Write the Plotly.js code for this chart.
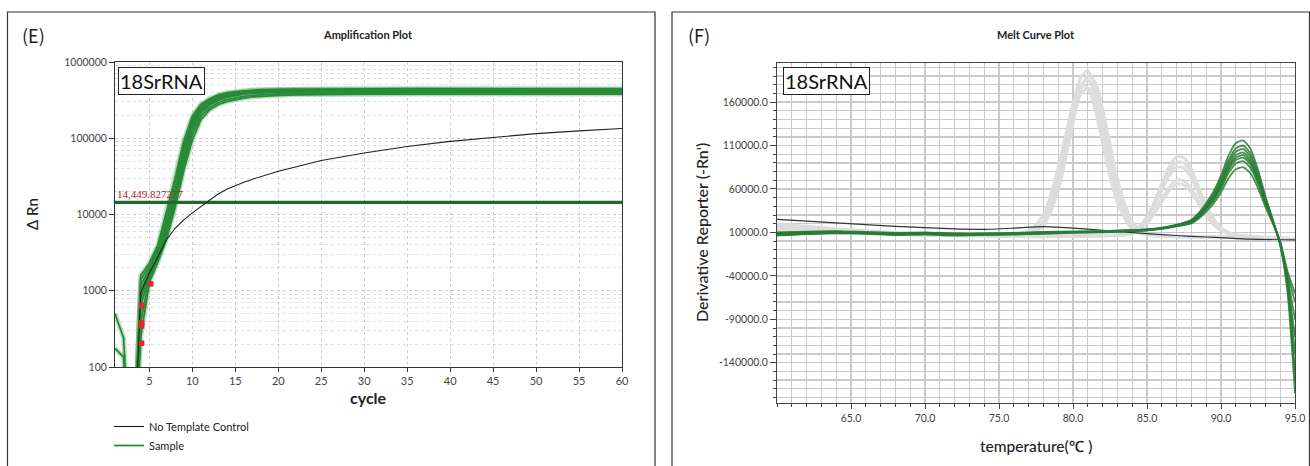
<!DOCTYPE html>
<html><head><meta charset="utf-8">
<script src="https://cdn.plot.ly/plotly-3.0.1.min.js"></script>
<style>html,body{margin:0;padding:0;background:#fff}#chart{width:1310px;height:466px}</style>
</head><body><div id="chart"></div>
<script>
// ---------- Amplification plot data ----------
const CYCLES = [1,2,3,4,5,6,7,8,9,10,11,12,13,14,15,16,17,18,20,22,25,30,35,40,45,50,55,60];
const AMP_S1 = [2,2,2,1600,2300,4000,11000,30000,92000,195000,280000,330000,370000,395000,410000,420000,428000,433000,438000,441000,443000,445000,446000,446000,446000,445000,445000,444000];
const AMP_S2 = [500,240,2,1400,2100,3700,9000,26000,80000,180000,265000,318000,358000,385000,402000,413000,421000,427000,432000,435000,437000,439000,440000,440000,439000,439000,438000,438000];
const AMP_S3 = [2,2,2,1200,1900,3400,8000,22000,70000,165000,250000,305000,345000,374000,393000,405000,413000,419000,425000,428000,430000,432000,433000,433000,432000,432000,431000,431000];
const AMP_S4 = [175,135,2,1000,1800,3200,7200,20000,62000,150000,238000,295000,336000,365000,384000,397000,406000,413000,419000,422000,424000,426000,427000,427000,427000,426000,426000,425000];
const AMP_S5 = [2,2,2,800,1700,3000,6500,17500,55000,140000,228000,285000,326000,356000,376000,390000,400000,407000,414000,417000,419000,421000,422000,422000,422000,421000,421000,420000];
const AMP_S6 = [2,2,2,630,1600,2800,6000,16000,50000,128000,215000,272000,314000,344000,364000,378000,388000,395000,403000,407000,410000,413000,414000,414000,414000,414000,413000,413000];
const AMP_S7 = [2,2,2,400,1450,2600,5300,14000,44000,112000,195000,252000,292000,320000,340000,354000,365000,372000,382000,387000,390000,393000,395000,396000,396000,396000,395000,395000];
const AMP_S8 = [2,2,2,250,1300,2400,4800,12500,38000,95000,175000,235000,275000,302000,322000,337000,348000,356000,366000,371000,375000,378000,380000,381000,381000,381000,380000,380000];
const AMP_NTC = [2,2,2,950,1700,2800,4700,6600,8500,10500,12800,15500,18600,21500,24000,26500,29000,31500,37000,42000,51000,64000,78000,91000,103000,115000,125000,134000];
const THRESHOLD = 14449.827277;
const THRESHOLD_LABEL = "14,449.827277";
const CT_X = [4.1,4.1,4.1,4.1,5.15];
const CT_Y = [640,380,345,205,1230];
const AMP_YTICKS = [100,1000,10000,100000,1000000];
const AMP_YTEXT = ["100","1000","10000","100000","1000000"];
const AMP_XTICKS = [5,10,15,20,25,30,35,40,45,50,55,60];

// ---------- Melt curve data ----------
const T_G = [60,62,64,66,68,70,72,74,76,78,80,82,84,85,86,87,88,88.5,89,89.5,90,90.5,91,91.5,92,92.5,93,93.5,94,94.5,95];
const MELT_G1 = [8000,9500,10500,9500,8000,8500,7500,8000,8500,9500,10500,11000,12500,13500,15500,19000,24700,32600,43800,57400,75400,98000,112600,116000,105900,82200,51700,24700,-4700,-55000,-150000];
const MELT_G2 = [9000,10000,11000,10000,9000,9500,8500,8500,9000,10000,11000,11500,12500,13500,15000,18500,23800,31300,41900,54700,71700,93000,106800,110000,100400,78100,49400,23800,-3800,-48000,-110000];
const MELT_G3 = [7000,8500,9500,9000,7500,8000,7000,7500,8000,9000,10000,10500,12000,13000,15000,18500,23300,30400,40600,52900,69200,89600,102900,106000,96800,75300,47800,23300,-3300,-60000,-175000];
const MELT_G4 = [10000,11000,11500,10500,9500,10000,9000,9000,9500,10500,11000,11500,12500,13500,15000,18000,22700,29600,39400,51100,66800,86400,99100,102000,93200,72700,46200,22700,-2700,-42000,-90000];
const MELT_G5 = [8500,9000,10000,9500,8500,9000,8000,8000,8500,9500,10500,11000,12000,13000,14500,18000,22300,28900,38400,49800,64900,83900,96200,99000,90500,70600,45000,22300,-2300,-45000,-130000];
const MELT_G6 = [6500,8000,9000,8500,7000,7500,6500,7000,7500,8500,9500,10000,11500,12500,14500,17500,21900,28300,37500,48400,63100,81400,93300,96000,87800,68600,43900,21900,-1900,-38000,-70000];
const MELT_G7 = [9500,10500,11000,10000,9000,9500,8500,8500,9000,10000,10500,11000,12000,13000,14500,17500,21300,27400,36200,46600,60600,78000,89400,92000,84100,65800,42300,21300,-1300,-35000,-60000];
const MELT_G8 = [7500,8500,9500,9000,8000,8500,7500,7500,8000,9000,10000,10500,11500,12500,14000,17000,20400,26000,33900,43500,56300,72200,82600,85000,77800,61100,39500,20400,-400,-50000,-160000];

const T_A = [60,65,70,75,77,78,79,79.5,80,80.5,81,81.5,82,82.5,83,84,85,90,95];
const MELT_A1 = [20000,13000,8000,7000,9800,23100,73500,114300,156100,187500,196000,177000,139000,97200,59200,18200,7900,5000,2000];
const MELT_A2 = [17000,12000,7500,6900,9600,22200,69900,108600,148200,177900,186000,168000,132000,92400,56400,17500,7800,5000,2000];
const MELT_A3 = [15000,11000,7000,6800,9400,21300,66400,102900,140300,168400,176000,159000,125000,87600,53600,16900,7700,4500,1500];
const MELT_A4 = [18000,12500,8000,6600,7500,17700,57800,94800,135500,172500,190400,182700,152200,111500,71700,22700,8400,5000,2000];
const MELT_A5 = [16000,11500,7500,7800,12100,30500,84800,121500,158300,179300,176600,151300,112800,74300,44500,13900,6900,4500,1500];

const T_B = [60,70,80,84,85,85.5,86,86.5,87,87.5,88,88.5,89,90,91,95];
const MELT_B1 = [14000,8000,6000,10400,28100,45600,65800,85600,96900,95600,82400,62100,41000,15000,7300,3000];
const MELT_B2 = [12000,7500,6000,10100,26600,43000,61900,80400,91000,89800,77400,58500,38700,14400,7200,3000];
const MELT_B3 = [13000,7000,5500,9800,25200,40400,58000,75200,85000,83900,72400,54800,36400,13800,7100,2500];
const MELT_B4 = [11000,7000,5500,8900,20400,31800,45000,57900,65300,64400,55800,42600,28800,11900,6800,2500];
const MELT_B5 = [12500,7500,6000,9100,21600,34000,48300,62200,70200,69300,60000,45700,30700,12400,6900,3000];

const T_N = [60,64,68,72,74,76,78,80,82,84,86,88,90,92,95];
const MELT_NTC = [25000,21000,17000,14000,13500,15000,16800,15000,12500,9800,7500,5500,4000,2300,1500];

const MELT_XTICKS = [65,70,75,80,85,90,95];
const MELT_XTEXT = ["65.0","70.0","75.0","80.0","85.0","90.0","95.0"];
const MELT_YTICKS = [-140000,-90000,-40000,10000,60000,110000,160000];
const MELT_YTEXT = ["-140000.0","-90000.0","-40000.0","10000.0","60000.0","110000.0","160000.0"];

// ---------- build ----------
const W = 1310, H = 466;
const px = v => v / W, py = v => 1 - v / H;
const FONT = 'Lato, "Noto Sans", "Noto Sans CJK SC", sans-serif';

const traces = [];
const ampSamples = [AMP_S1, AMP_S2, AMP_S3, AMP_S4, AMP_S5, AMP_S6, AMP_S7, AMP_S8];
ampSamples.forEach(ys => {
  traces.push({x: CYCLES, y: ys, xaxis: 'x', yaxis: 'y', mode: 'lines', showlegend: false,
    line: {color: 'rgba(110,190,120,0.45)', width: 5}, hoverinfo: 'skip'});
});
ampSamples.forEach((ys, i) => {
  traces.push({x: CYCLES, y: ys, xaxis: 'x', yaxis: 'y', mode: 'lines', name: 'Sample',
    legendgroup: 'sample', showlegend: i === 0,
    line: {color: '#2a8a3a', width: 1.8}, hoverinfo: 'skip'});
});
traces.push({x: [CYCLES[0], CYCLES[CYCLES.length - 1]], y: [THRESHOLD, THRESHOLD], xaxis: 'x', yaxis: 'y',
  mode: 'lines', showlegend: false, line: {color: '#1f6a2b', width: 3.2}, hoverinfo: 'skip'});
traces.push({x: CYCLES, y: AMP_NTC, xaxis: 'x', yaxis: 'y', mode: 'lines', name: 'No Template Control',
  line: {color: '#222', width: 1.1}, hoverinfo: 'skip'});
traces.push({x: CT_X, y: CT_Y, xaxis: 'x', yaxis: 'y', mode: 'markers', showlegend: false,
  marker: {color: '#e0282e', size: 5.5, symbol: 'square'}, hoverinfo: 'skip'});

// melt traces
[MELT_A1, MELT_A2, MELT_A3, MELT_A4, MELT_A5].forEach(ys => {
  traces.push({x: T_A, y: ys, xaxis: 'x2', yaxis: 'y2', mode: 'lines', showlegend: false,
    line: {color: 'rgba(220,220,220,0.95)', width: 3, shape: 'spline', smoothing: 0.8}, hoverinfo: 'skip'});
});
[MELT_B1, MELT_B2, MELT_B3, MELT_B4, MELT_B5].forEach(ys => {
  traces.push({x: T_B, y: ys, xaxis: 'x2', yaxis: 'y2', mode: 'lines', showlegend: false,
    line: {color: 'rgba(220,220,220,0.95)', width: 3, shape: 'spline', smoothing: 0.8}, hoverinfo: 'skip'});
});
traces.push({x: T_N, y: MELT_NTC, xaxis: 'x2', yaxis: 'y2', mode: 'lines', showlegend: false,
  line: {color: '#333', width: 1.2, shape: 'spline', smoothing: 0.6}, hoverinfo: 'skip'});
[MELT_G1, MELT_G2, MELT_G3, MELT_G4, MELT_G5, MELT_G6, MELT_G7, MELT_G8].forEach(ys => {
  traces.push({x: T_G, y: ys, xaxis: 'x2', yaxis: 'y2', mode: 'lines', showlegend: false,
    line: {color: 'rgba(40,125,52,0.85)', width: 1.8, shape: 'spline', smoothing: 0.6}, hoverinfo: 'skip'});
});

const tickFont = {family: FONT, size: 10.5, color: '#444'};
const layout = {
  width: W, height: H, autosize: false,
  margin: {l: 0, r: 0, t: 0, b: 0, pad: 0},
  paper_bgcolor: '#fff', plot_bgcolor: '#fff',
  font: {family: FONT, color: '#222'},
  showlegend: true,
  legend: {x: px(109), y: py(412), xanchor: 'left', yanchor: 'top', traceorder: 'reversed',
    font: {family: FONT, size: 11, color: '#222'}, bgcolor: 'rgba(0,0,0,0)', borderwidth: 0},
  xaxis: {domain: [px(115), px(622)], anchor: 'y', range: [1, 60], tickmode: 'array', tickvals: AMP_XTICKS,
    ticks: 'outside', ticklen: 4, tickcolor: '#333', tickfont: {family: FONT, size: 11, color: '#444'},
    showline: true, mirror: true, linecolor: '#333', linewidth: 1,
    showgrid: true, gridcolor: '#cfcfcf', griddash: 'dot', gridwidth: 1, zeroline: false},
  yaxis: {domain: [py(367), py(62)], anchor: 'x', type: 'log', range: [2, 6], tickmode: 'array',
    tickvals: AMP_YTICKS, ticktext: AMP_YTEXT, ticks: 'outside', ticklen: 5, tickcolor: '#333', tickfont: tickFont,
    showline: true, mirror: true, linecolor: '#333', linewidth: 1,
    showgrid: true, gridcolor: '#c8c8c8', griddash: 'dot', gridwidth: 1, zeroline: false,
    minor: {dtick: 'D1', showgrid: true, gridcolor: '#dedede', griddash: 'dot', gridwidth: 1, ticks: ''}},
  xaxis2: {domain: [px(777), px(1295)], anchor: 'y2', range: [60, 95], tickmode: 'array',
    tickvals: MELT_XTICKS, ticktext: MELT_XTEXT, ticks: 'outside', ticklen: 5, tickcolor: '#444', tickfont: tickFont,
    showline: true, mirror: true, linecolor: '#444', linewidth: 1,
    showgrid: true, gridcolor: '#cacaca', gridwidth: 1.3, zeroline: false,
    minor: {dtick: 1, tick0: 0, ticks: 'outside', ticklen: 3, tickcolor: '#444', showgrid: true, gridcolor: '#cacaca', gridwidth: 1.3}},
  yaxis2: {domain: [py(403), py(63)], anchor: 'x2', range: [-186300, 205000], tickmode: 'array',
    tickvals: MELT_YTICKS, ticktext: MELT_YTEXT, ticks: 'outside', ticklen: 6, tickcolor: '#444', tickfont: tickFont,
    showline: true, mirror: true, linecolor: '#444', linewidth: 1,
    showgrid: true, gridcolor: '#cacaca', gridwidth: 1.3, zeroline: false,
    minor: {dtick: 10000, tick0: 0, ticks: 'outside', ticklen: 3, tickcolor: '#444', showgrid: true, gridcolor: '#cacaca', gridwidth: 1.3}},
  shapes: [
    {type: 'rect', xref: 'paper', yref: 'paper', x0: px(7.5), x1: px(655), y0: -0.05, y1: py(12),
      line: {color: '#333', width: 1.2}, fillcolor: 'rgba(0,0,0,0)', layer: 'below'},
    {type: 'rect', xref: 'paper', yref: 'paper', x0: px(672), x1: px(1309.5), y0: -0.05, y1: py(12),
      line: {color: '#333', width: 1.2}, fillcolor: 'rgba(0,0,0,0)', layer: 'below'}
  ],
  annotations: [
    {text: '(E)', xref: 'paper', yref: 'paper', x: px(20), y: py(35), xanchor: 'left', yanchor: 'middle', showarrow: false,
      font: {family: '"Noto Sans CJK SC", "Noto Sans", sans-serif', size: 18, color: '#222'}},
    {text: 'Amplification Plot', xref: 'paper', yref: 'paper', x: px(368), y: py(35), xanchor: 'center', yanchor: 'middle', showarrow: false,
      font: {family: FONT, size: 11, color: '#222', weight: 700}},
    {text: 'cycle', xref: 'paper', yref: 'paper', x: px(368), y: py(397), xanchor: 'center', yanchor: 'middle', showarrow: false,
      font: {family: FONT, size: 16, color: '#222', weight: 700}},
    {text: 'Δ Rn', xref: 'paper', yref: 'paper', x: px(32), y: py(214), xanchor: 'center', yanchor: 'middle', showarrow: false, textangle: -90,
      font: {family: FONT, size: 15, color: '#222', weight: 500}},
    {text: '18SrRNA', xref: 'paper', yref: 'paper', x: px(118), y: py(67), xanchor: 'left', yanchor: 'top', showarrow: false,
      font: {family: FONT, size: 20, color: '#111'}, bgcolor: '#fff', bordercolor: '#222', borderwidth: 1, borderpad: 1},
    {text: THRESHOLD_LABEL, xref: 'x', yref: 'y', x: 1, y: Math.log10(THRESHOLD), xanchor: 'left', yanchor: 'bottom', showarrow: false,
      yshift: 0, font: {family: '"Liberation Serif", "DejaVu Serif", serif', size: 11, color: '#a3232e'}},
    {text: '(F)', xref: 'paper', yref: 'paper', x: px(686), y: py(35), xanchor: 'left', yanchor: 'middle', showarrow: false,
      font: {family: '"Noto Sans CJK SC", "Noto Sans", sans-serif', size: 18, color: '#222'}},
    {text: 'Melt Curve Plot', xref: 'paper', yref: 'paper', x: px(1036), y: py(35), xanchor: 'center', yanchor: 'middle', showarrow: false,
      font: {family: FONT, size: 11, color: '#222', weight: 700}},
    {text: 'temperature(℃ )', xref: 'paper', yref: 'paper', x: px(1036), y: py(446), xanchor: 'center', yanchor: 'middle', showarrow: false,
      font: {family: FONT, size: 15.5, color: '#222', weight: 500}},
    {text: "Derivative Reporter (-Rn')", xref: 'paper', yref: 'paper', x: px(701), y: py(233), xanchor: 'center', yanchor: 'middle', showarrow: false, textangle: -90,
      font: {family: FONT, size: 16, color: '#222', weight: 500}},
    {text: '18SrRNA', xref: 'paper', yref: 'paper', x: px(783), y: py(67), xanchor: 'left', yanchor: 'top', showarrow: false,
      font: {family: FONT, size: 20, color: '#111'}, bgcolor: '#fff', bordercolor: '#222', borderwidth: 1, borderpad: 1}
  ]
};
Plotly.newPlot('chart', traces, layout, {staticPlot: true, displayModeBar: false});
</script></body></html>
